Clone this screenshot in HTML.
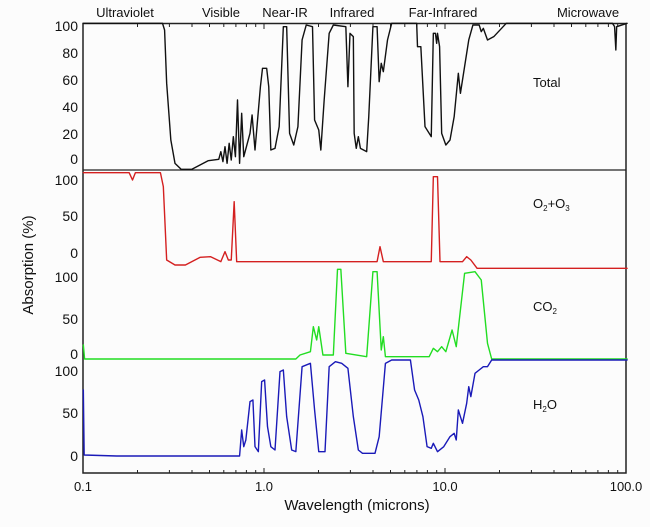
<!DOCTYPE html>
<html><head><meta charset="utf-8"><style>
html,body{margin:0;padding:0;background:#fff;}
svg{display:block;font-family:"Liberation Sans",sans-serif;}
</style></head><body>
<svg width="650" height="527" viewBox="0 0 650 527" xmlns="http://www.w3.org/2000/svg">
<rect width="650" height="527" fill="#fcfcfc"/>
<g font-size="13" fill="#111" text-anchor="middle">
<text x="125" y="17">Ultraviolet</text>
<text x="221" y="17">Visible</text>
<text x="285" y="17">Near-IR</text>
<text x="352" y="17">Infrared</text>
<text x="443" y="17">Far-Infrared</text>
<text x="588" y="17">Microwave</text>
</g>
<g font-size="14" fill="#111" text-anchor="end">
<text x="78" y="31">100</text><text x="78" y="58">80</text><text x="78" y="85">60</text>
<text x="78" y="112">40</text><text x="78" y="139">20</text><text x="78" y="164">0</text>
<text x="78" y="185">100</text><text x="78" y="221">50</text><text x="78" y="258">0</text>
<text x="78" y="282">100</text><text x="78" y="324">50</text><text x="78" y="359">0</text>
<text x="78" y="376">100</text><text x="78" y="418">50</text><text x="78" y="461">0</text>
</g>
<text transform="translate(33,265) rotate(-90)" font-size="15" text-anchor="middle" fill="#111">Absorption (%)</text>
<g font-size="13" fill="#111" text-anchor="middle">
<text x="83" y="491">0.1</text><text x="264" y="491">1.0</text><text x="445" y="491">10.0</text><text x="626" y="491">100.0</text>
</g>
<text x="357" y="510" font-size="15" text-anchor="middle" fill="#111">Wavelength (microns)</text>
<g font-size="13" fill="#111">
<text x="533" y="87">Total</text>
<text x="533" y="208">O<tspan font-size="8" dy="3">2</tspan><tspan dy="-3">+O</tspan><tspan font-size="8" dy="3">3</tspan></text>
<text x="533" y="311">CO<tspan font-size="8" dy="3">2</tspan></text>
<text x="533" y="409">H<tspan font-size="8" dy="3">2</tspan><tspan dy="-3">O</tspan></text>
</g>
<rect x="83" y="23.5" width="543" height="449.5" fill="none" stroke="#222" stroke-width="1.5"/>
<line x1="83" y1="170" x2="626" y2="170" stroke="#222" stroke-width="1.3"/>
<g stroke="#222" stroke-width="1">
<path d="M137.5 473v-3M169.4 473v-3M192 473v-3M209.5 473v-3M223.8 473v-3M235.9 473v-3M246.4 473v-3M255.7 473v-3M264 473v-5
M318.5 473v-3M350.4 473v-3M373 473v-3M390.5 473v-3M404.8 473v-3M416.9 473v-3M427.4 473v-3M436.7 473v-3M445 473v-5
M499.5 473v-3M531.4 473v-3M554 473v-3M571.5 473v-3M585.8 473v-3M597.9 473v-3M608.4 473v-3M617.7 473v-3
M137.5 24v3M169.4 24v3M192 24v3M209.5 24v3M223.8 24v3M235.9 24v3M246.4 24v3M255.7 24v3M264 24v5
M318.5 24v3M350.4 24v3M373 24v3M390.5 24v3M404.8 24v3M416.9 24v3M427.4 24v3M436.7 24v3M445 24v5
M499.5 24v3M531.4 24v3M554 24v3M571.5 24v3M585.8 24v3M597.9 24v3M608.4 24v3M617.7 24v3"/>
</g>
<g transform="scale(0.41667,0.33333)" fill="none" stroke-width="1.4" stroke-linejoin="round" stroke-linecap="round">
<polyline vector-effect="non-scaling-stroke" stroke="#111" points="200,70 390,70 395,90 400,250 410,420 420,490 435,508 460,508 480,495 500,482 525,478 530,455 535,485 540,440 545,490 550,430 555,480 560,410 565,470 570,300 575,490 580,340 585,470 600,400 605,345 612,450 625,260 630,205 640,205 645,260 650,450 660,445 670,380 680,80 688,80 695,400 705,435 715,380 725,120 735,75 750,80 755,360 765,390 770,450 778,300 790,100 800,75 830,80 835,260 840,100 848,110 850,400 855,445 860,410 865,445 880,455 885,350 895,80 905,80 910,245 915,190 920,215 930,120 940,70 1000,70 1002,140 1010,140 1020,380 1035,410 1040,100 1045,100 1048,130 1050,100 1055,140 1060,400 1070,435 1080,420 1090,350 1100,220 1105,280 1115,200 1125,120 1135,75 1150,75 1155,95 1160,85 1170,120 1185,110 1215,70 1470,70 1475,80 1478,150 1480,80 1505,70"/>
<polyline vector-effect="non-scaling-stroke" stroke="#d42020" points="200,518 310,518 318,540 325,518 385,518 392,560 400,780 420,795 445,795 480,772 505,770 530,785 540,755 548,780 555,780 562,605 568,785 805,785 905,785 912,740 920,785 1035,785 1040,530 1050,530 1056,785 1110,785 1120,770 1130,780 1145,805 1505,805"/>
<g transform="translate(0,780)">
<polyline vector-effect="non-scaling-stroke" stroke="#22dd22" points="200,255 203,297 710,297 720,285 745,275 752,200 760,240 765,200 775,285 800,285 810,28 818,28 830,280 880,290 895,35 905,35 915,270 920,230 925,290 1030,290 1040,265 1050,275 1060,260 1070,275 1085,210 1095,260 1115,40 1140,35 1155,60 1170,250 1180,297 1505,297"/>
<polyline vector-effect="non-scaling-stroke" stroke="#1a1ab8" points="200,390 202,585 280,588 320,588 575,588 580,510 585,560 590,540 600,425 607,420 612,560 620,575 628,365 635,360 642,500 650,560 660,570 672,335 680,330 688,470 700,570 710,575 725,320 745,310 755,450 765,575 780,575 790,320 805,305 820,310 835,325 848,470 860,570 870,580 900,580 910,530 925,310 940,300 985,300 995,390 1005,420 1015,470 1025,560 1035,565 1040,550 1050,575 1065,560 1080,530 1090,520 1095,540 1100,450 1110,490 1120,430 1125,380 1130,410 1140,340 1150,330 1160,320 1170,320 1180,300 1505,300"/>
</g>
</g>
</svg>
</body></html>
